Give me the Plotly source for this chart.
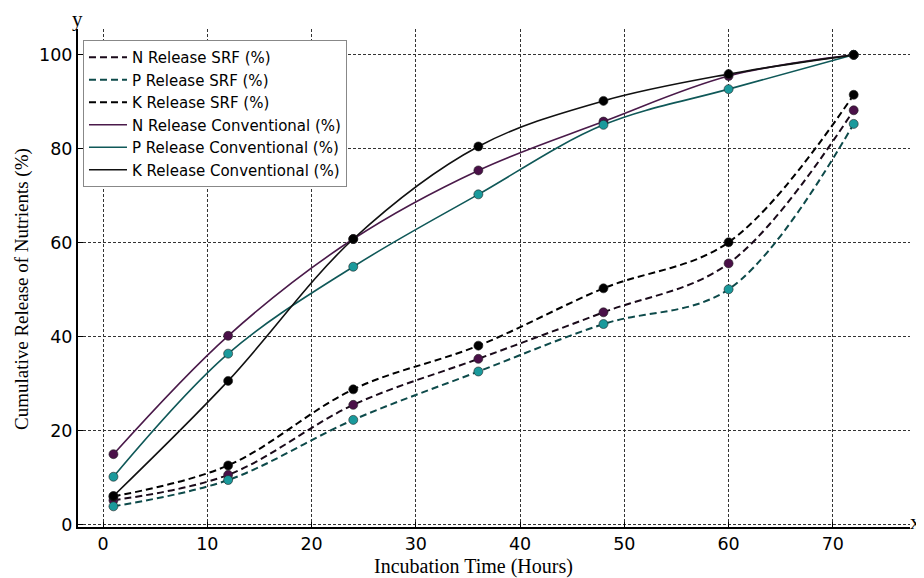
import plotly.graph_objects as go

hours = [1, 12, 24, 36, 48, 60, 72]

n_srf = [5.2, 10.6, 25.5, 35.3, 45.2, 55.6, 88.2]
p_srf = [3.9, 9.5, 22.3, 32.6, 42.7, 50.1, 85.3]
k_srf = [6.0, 12.6, 28.8, 38.1, 50.3, 60.1, 91.5]

n_conv = [15.0, 40.2, 60.8, 75.4, 85.8, 95.5, 100.0]
p_conv = [10.2, 36.4, 54.9, 70.3, 85.1, 92.7, 100.0]
k_conv = [6.1, 30.6, 60.8, 80.5, 90.2, 95.9, 100.0]

x_ticks = [0, 10, 20, 30, 40, 50, 60, 70]
y_ticks = [0, 20, 40, 60, 80, 100]

series = [
    ("N Release SRF (%)", n_srf, "#1a0a1a", "7px,4px", "#4a1048"),
    ("P Release SRF (%)", p_srf, "#0d4a4a", "7px,4px", "#1a9a9c"),
    ("K Release SRF (%)", k_srf, "#000000", "7px,4px", "#000000"),
    ("N Release Conventional (%)", n_conv, "#4a1a4a", "solid", "#4a1048"),
    ("P Release Conventional (%)", p_conv, "#0f5858", "solid", "#1a9a9c"),
    ("K Release Conventional (%)", k_conv, "#111111", "solid", "#000000"),
]

fig = go.Figure()
for name, vals, lc, dash, mc in series:
    fig.add_trace(go.Scatter(
        x=hours, y=vals, mode="lines", name=name,
        line=dict(color=lc, dash=dash, width=2 if dash != "solid" else 1.6,
                  shape="spline", smoothing=1.0),
    ))
for name, vals, lc, dash, mc in series:
    fig.add_trace(go.Scatter(
        x=hours, y=vals, mode="markers", showlegend=False,
        marker=dict(color=mc, size=9, line=dict(color="#222222", width=0.6)),
    ))

axis_common = dict(
    showline=True, linecolor="black", linewidth=2, mirror=False,
    ticks="inside", ticklen=5, tickcolor="black", tickwidth=1.2,
    showgrid=True, gridcolor="#333333", griddash="3px,2px", gridwidth=1,
    zeroline=False, automargin=False,
    tickfont=dict(family="DejaVu Sans", size=17.5, color="black"),
)

fig.update_xaxes(range=[-2.4, 77.4], tickvals=x_ticks, **axis_common)
fig.update_yaxes(range=[-0.5, 105.5], tickvals=y_ticks, **axis_common)

fig.add_annotation(text="Incubation Time (Hours)", xref="paper", yref="paper",
                   x=0.475, y=-0.080, xanchor="center", yanchor="middle",
                   showarrow=False,
                   font=dict(family="Liberation Serif", size=20, color="black"))
fig.add_annotation(text="Cumulative Release of Nutrients (%)", xref="paper", yref="paper",
                   x=-0.0673, y=0.478, xanchor="center", yanchor="middle",
                   showarrow=False, textangle=-90,
                   font=dict(family="Liberation Serif", size=19, color="black"))
fig.add_annotation(text="y", xref="paper", yref="paper", x=-0.001, y=1.021,
                   xanchor="center", yanchor="middle", showarrow=False,
                   font=dict(family="Liberation Serif", size=21, color="black"))
fig.add_annotation(text="x", xref="paper", yref="paper", x=1.007, y=0.012,
                   xanchor="center", yanchor="middle", showarrow=False,
                   font=dict(family="Liberation Serif", size=22, color="black"))

fig.update_layout(
    width=916, height=570,
    margin=dict(l=70, r=14, t=21, b=51),
    plot_bgcolor="white", paper_bgcolor="white",
    legend=dict(x=0.006, y=0.978, xanchor="left", yanchor="top",
                bgcolor="white", bordercolor="#888888", borderwidth=1,
                font=dict(family="DejaVu Sans", size=15, color="black"),
                tracegroupgap=0, itemwidth=38),
)

fig.write_html("out.html")
